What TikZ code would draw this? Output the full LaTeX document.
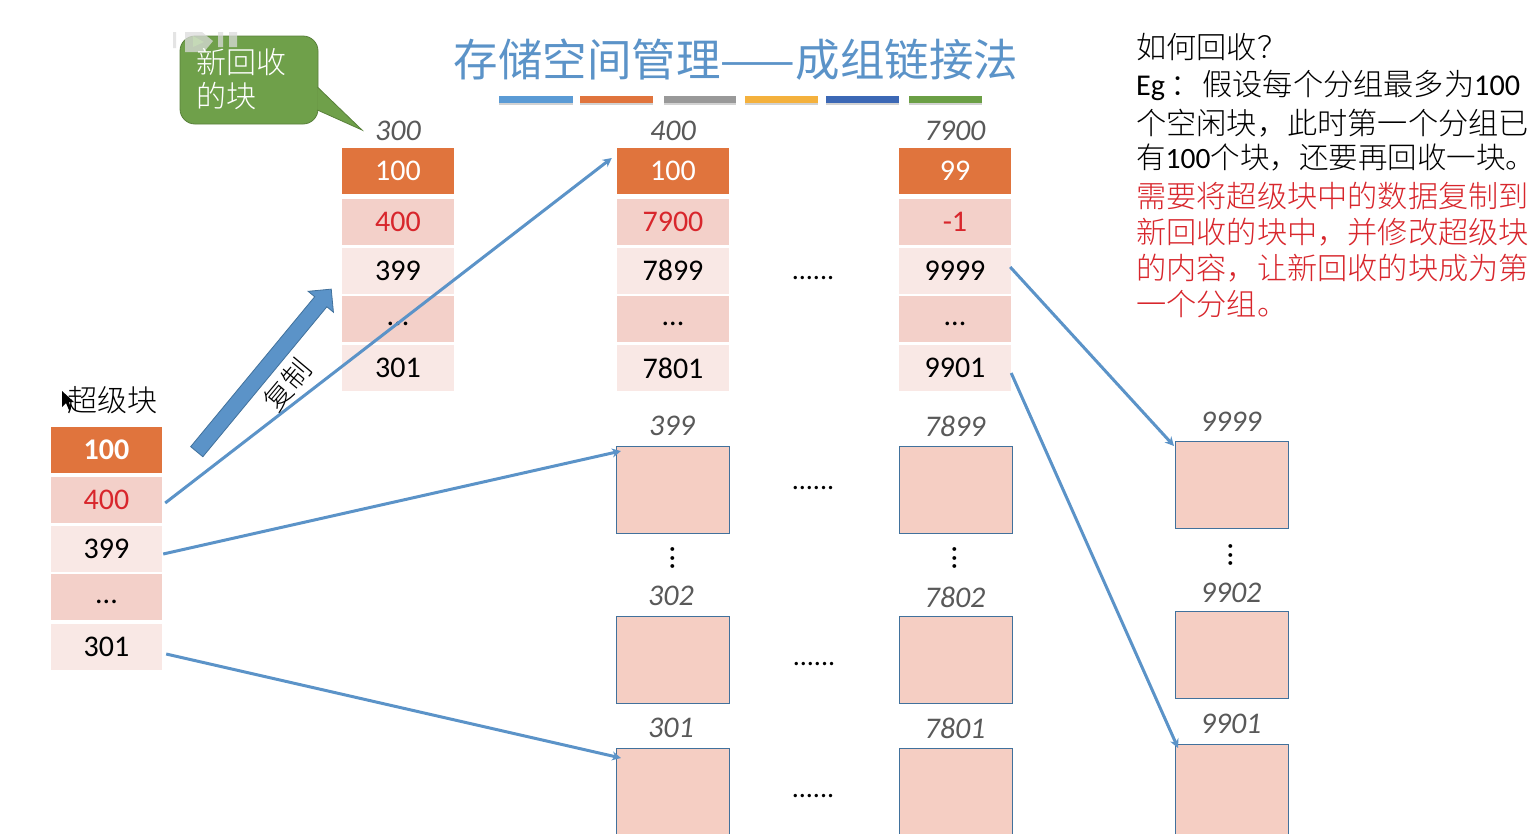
\documentclass[tikz,border=0pt]{standalone}
\usepackage{fontspec}
\usetikzlibrary{arrows.meta, calc, shapes.arrows, shadows}
\setmainfont{Carlito}
\newfontfamily\cjk{Noto Sans CJK SC}[UprightFont=* Light]
\newfontfamily\cjktitle{Noto Sans CJK SC}
\definecolor{linkblue}{HTML}{5B93C8}
\definecolor{headorange}{HTML}{E0743D}
\definecolor{cellpink}{HTML}{F3D0C9}
\definecolor{celllight}{HTML}{F9E8E5}
\definecolor{boxpink}{HTML}{F5CEC3}
\definecolor{boxedge}{HTML}{41719C}
\definecolor{calloutgreen}{HTML}{6FA04A}
\definecolor{labelgray}{HTML}{595959}
\definecolor{notered}{HTML}{D8262C}
\tikzset{
  cell/.style={minimum width=112pt, minimum height=46pt, inner sep=0pt, font=\fontsize{30}{30}\selectfont},
  headcell/.style={cell, fill=headorange, text=white},
  redcell/.style={cell, fill=cellpink, text=notered},
  lightcell/.style={cell, fill=celllight, text=black},
  pinkcell/.style={cell, fill=cellpink, text=black},
  blockbox/.style={draw=boxedge, line width=1.1pt, fill=boxpink, minimum width=113pt, anchor=north west, inner sep=0pt},
  addr/.style={text=labelgray, font=\fontsize{30}{30}\selectfont\itshape, inner sep=0pt},
  dots/.style={font=\fontsize{28}{28}\selectfont, inner sep=0pt},
  vdots/.style={font=\fontsize{32}{32}\selectfont, inner sep=0pt, rotate=90},
  note/.style={anchor=west, inner sep=0pt, font=\fontsize{30.2}{30.2}\selectfont},
  link/.style={draw=linkblue, line width=3pt, -{Stealth[length=9pt,width=9pt]}},
  callout/.style={draw=calloutgreen!80!black, fill=calloutgreen, line width=.8pt},
  bar/.style={line width=0pt, drop shadow={shadow xshift=0pt, shadow yshift=-2pt, opacity=.35}}
}
\begin{document}
\begin{tikzpicture}[x=1pt,y=-1pt]
\useasboundingbox (0,0) rectangle (1537,833);
\clip (0,0) rectangle (1537,833);
\fill[white] (0,0) rectangle (1537,833);
% title and coloured bars
\node[inner sep=0pt, text=linkblue, font=\cjktitle\fontsize{44.5}{44.5}\selectfont] (title) at (736,60) {存储空间管理——成组链接法};
\foreach \xa/\xb/\col in {499/573/5B9BD5,580/653/E0743D,664/736/999999,745/818/F4B13D,826/899/3C68B5,909/982/6B9F45} {
  \definecolor{barcol}{HTML}{\col}
  \fill[barcol,bar] (\xa,96) rectangle (\xb,103);
}
% superblock
\node[inner sep=0pt, font=\cjk\fontsize{30}{30}\selectfont] (superlabel) at (112,400) {超级块};
\fill[black] (62,391) -- (62,407) -- (66,403) -- (69,410) -- (71,409) -- (69,402) -- (74,402) -- cycle;
\node[headcell, minimum width=111pt, font=\fontsize{30}{30}\selectfont\bfseries] (s1) at (106.5,449.5) {100};
\node[redcell, minimum width=111pt] (s2) at (106.5,499.5) {400};
\node[lightcell, minimum width=111pt] (s3) at (106.5,548.5) {399};
\node[pinkcell, minimum width=111pt] (s4) at (106.5,597) {\raisebox{-6pt}[0pt][0pt]{...}};
\node[lightcell, minimum width=111pt] (s5) at (106.5,647) {301};
% the three index blocks
\foreach \nm/\xc/\va/\vb/\vc/\ve/\lab in {a/398/100/400/399/301/300,b/673/100/7900/7899/7801/400,c/955/99/-1/9999/9901/7900} {
  \node[addr] (\nm0) at (\xc,131) {\lab};
  \node[headcell] (\nm1) at (\xc,171) {\va};
  \node[redcell] (\nm2) at (\xc,221.5) {\vb};
  \node[lightcell] (\nm3) at (\xc,270.5) {\vc};
  \node[pinkcell] (\nm4) at (\xc,319) {\raisebox{-6pt}[0pt][0pt]{...}};
  \node[lightcell] (\nm5) at (\xc,368) {\ve};
}
% free blocks
\foreach \nm/\xl/\yl/\hb/\xt/\yt/\lab in {p1/616/446/87/672/426/399,p2/616/616/87/671/596/302,p3/616/748/110/671/728/301,q1/899/446/87/955/426/7899,q2/899/616/87/955/597/7802,q3/899/748/110/955/728/7801,r1/1175/441/87/1231/422/9999,r2/1175/611/87/1231/593/9902,r3/1175/744/110/1231/724/9901} {
  \node[blockbox, minimum height=\hb pt] (\nm) at (\xl,\yl) {};
  \node[addr] (\nm lab) at (\xt,\yt) {\lab};
}
\foreach \i/\xd/\yd in {1/813/278.5,2/813/488.5,3/814/664.5,4/813/796.5} {
  \node[dots] (row\i) at (\xd,\yd) {......};
}
\foreach \i/\xd/\yd in {1/673/558,2/955/558,3/1231/555} {
  \node[vdots] (gap\i) at (\xd,\yd) {...};
}
% callout
\draw[callout, rounded corners=15pt] (180,36) rectangle (318,124);
\draw[callout] (317.4,87) -- (362,130) -- (317.4,110);
\fill[gray!28, opacity=.75] (173,32) rectangle (176,48) (185,32) -- (202,32) -- (213,41) -- (204,52) -- (185,52) -- cycle;
\fill[gray!28, opacity=.75] (218,32) rectangle (223,47) (229,32) rectangle (237,47);
\fill[calloutgreen!40!white] (193,36) -- (204,42) -- (193,47) -- cycle;
\node[inner sep=0pt, anchor=west, text=white, font=\cjk\fontsize{30}{30}\selectfont] (callout1) at (196,62) {新回收};
\node[inner sep=0pt, anchor=west, text=white, font=\cjk\fontsize{30}{30}\selectfont] (callout2) at (196,96) {的块};
% copy arrow
\node[single arrow, draw=boxedge, fill=linkblue, line width=.8pt, minimum height=211pt, inner xsep=0pt, inner ysep=7.5pt, single arrow head extend=8.5pt, single arrow head indent=0pt, rotate=50.4, anchor=tail] (copyarrow) at (196.5,452) {};
\node[inner sep=0pt, rotate=50, font=\cjk\fontsize{28}{28}\selectfont] (copytext) at (287,385) {复制};
% links
\draw[link] ([shift={(3,3.5)}]s2.east) -- ([shift={(-5,-13)}]b1.west);
\draw[link] ([shift={(1,5.5)}]s3.east) -- ([shift={(5,5)}]p1.north west);
\draw[link] ([shift={(4,7)}]s5.east) -- ([shift={(5,10)}]p3.north west);
\draw[link] ([shift={(-1,-3.5)}]c3.east) -- ([shift={(-1,5)}]r1.north west);
\draw[link] ([shift={(0,5)}]c5.east) -- ([shift={(3,4)}]r3.north west);
% text on the right
\node[note] (note1) at (1136,47) {\cjk 如何回收？};
\node[note] (note2) at (1136,85) {Eg\,{\cjk ：\hspace{2pt}假设每个分组最多为}100};
\node[note] (note3) at (1136,123) {\cjk 个空闲块，此时第一个分组已};
\node[note, font=\fontsize{29.5}{29.5}\selectfont] (note4) at (1136,157) {{\cjk 有}100{\cjk 个块，还要再回收一块。}};
\foreach \i/\yn/\txt in {5/196/需要将超级块中的数据复制到,6/232/新回收的块中，并修改超级块,7/268/的内容，让新回收的块成为第,8/304/一个分组。} {
  \node[note, text=notered, font=\cjk\fontsize{30.2}{30.2}\selectfont] (note\i) at (1136,\yn) {\txt};
}
\end{tikzpicture}
\end{document}
